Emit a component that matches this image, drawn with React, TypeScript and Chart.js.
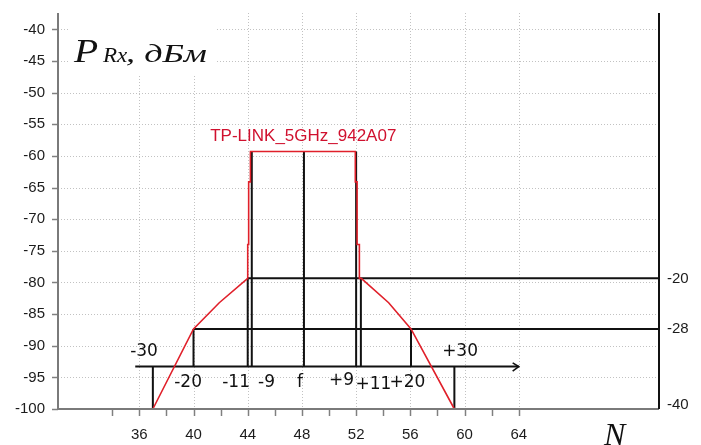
import React, { useEffect, useRef } from 'react';
import { Chart, registerables } from 'chart.js';

Chart.register(...registerables);

// ---- data ----
const xMin = 30;
const xMax = 74.35;
const yMin = -100;
const yMax = -37.4;
const refOffset = 59.35; // right axis (dB relative to peak) = dBm + refOffset

const xTickValues = [34, 36, 38, 40, 42, 44, 46, 48, 50, 52, 54, 56, 58, 60, 62, 64];
const xLabelValues = [36, 40, 44, 48, 52, 56, 60, 64];
const yTickValues = [-100, -95, -90, -85, -80, -75, -70, -65, -60, -55, -50, -45, -40];
const rightTickValues = [-40, -28, -20];

const ssid = 'TP-LINK_5GHz_942A07';
const spectrumChannels = [37, 40, 41.9, 44.0, 44.0, 44.07, 44.07, 44.2, 44.2, 51.94, 51.94, 52.07, 52.07, 52.24, 52.24, 52.38, 54.4, 56.05, 59.25];
const spectrumLevels = [-100, -87.35, -83.2, -79.35, -74.0, -74.0, -64.1, -64.1, -59.3, -59.3, -64.1, -64.1, -74.0, -74.0, -79.35, -79.35, -83.2, -87.35, -100];

const baselineLevel = -93.3;
const baselineStart = 35.7;
const baselineEnd = 64;
const arrowChannels = [63.55, 64, 63.55];
const arrowLevels = [-92.7, -93.3, -94.0];

const offsetLabels = ['-30', '-20', '-11', '-9', 'f', '+9', '+11', '+20', '+30'];
const offsetChannels = [37, 40, 44, 44.3, 48.15, 52, 52.35, 56.05, 59.25];
const offsetLineEnds = [-100, -87.35, -79.35, -59.3, -59.3, -59.3, -79.35, -87.35, -100];
const offsetLabelChannels = [36.35, 39.6, 43.14, 45.39, 47.86, 50.92, 53.28, 55.79, 59.67];
const offsetLabelLevels = [-91.0, -95.9, -95.9, -95.9, -95.9, -95.5, -96.2, -95.9, -91.0];

const levelLinesRel = [-20, -28];
const levelLineStarts = [44, 40];

const ssidLabelChannel = 48.1;
const ssidLabelLevel = -56.85;

// ---- build datasets ----
const black = '#111111';
const red = '#e0202a';

function seg(points: { x: number; y: number }[], color: string, width: number, axis = 'y') {
  return {
    type: 'line' as const,
    data: points,
    borderColor: color,
    borderWidth: width,
    pointRadius: 0,
    fill: false,
    tension: 0,
    yAxisID: axis,
    clip: false as any,
  };
}

function buildDatasets() {
  const ds: any[] = [];
  ds.push(seg(spectrumChannels.map((c, i) => ({ x: c, y: spectrumLevels[i] })), red, 1.6));
  ds.push(seg([{ x: baselineStart, y: baselineLevel }, { x: baselineEnd, y: baselineLevel }], black, 2));
  ds.push(seg(arrowChannels.map((c, i) => ({ x: c, y: arrowLevels[i] })), black, 1.6));
  offsetChannels.forEach((c, i) => {
    ds.push(seg([{ x: c, y: baselineLevel }, { x: c, y: offsetLineEnds[i] }], black, 2));
  });
  levelLinesRel.forEach((r, i) => {
    ds.push(seg([{ x: levelLineStarts[i], y: r }, { x: xMax, y: r }], black, 2, 'y2'));
  });
  return ds;
}

const tickFont = { family: '"Liberation Sans", Arial, sans-serif', size: 15 };
const tickColor = '#1c1c1c';
const serif = '"Liberation Serif", "Times New Roman", serif';

function stretchedText(ctx: CanvasRenderingContext2D, text: string, font: string, x: number, y: number, sx: number) {
  ctx.save();
  ctx.font = font;
  ctx.translate(x, y);
  ctx.scale(sx, 1);
  ctx.fillText(text, 0, 0);
  ctx.restore();
}

const decorPlugin = {
  id: 'decor',
  beforeDatasetsDraw(chart: any) {
    const { ctx, chartArea: a, scales } = chart;
    const x = scales.x;
    const y = scales.y;
    ctx.save();
    ctx.strokeStyle = '#c2c2c2';
    ctx.lineWidth = 1;
    ctx.setLineDash([1, 2]);
    for (const v of xLabelValues) {
      const px = Math.round(x.getPixelForValue(v)) + 0.5;
      ctx.beginPath();
      ctx.moveTo(px, a.top);
      ctx.lineTo(px, a.bottom);
      ctx.stroke();
    }
    for (const v of yTickValues) {
      if (v <= yMin) continue;
      const py = Math.round(y.getPixelForValue(v)) + 0.5;
      ctx.beginPath();
      ctx.moveTo(a.left, py);
      ctx.lineTo(a.right, py);
      ctx.stroke();
    }
    ctx.setLineDash([]);
    // title box
    ctx.fillStyle = '#ffffff';
    ctx.fillRect(70, a.top, 147, 62);
    ctx.fillStyle = '#111';
    ctx.textBaseline = 'alphabetic';
    ctx.textAlign = 'left';
    const base = 62;
    stretchedText(ctx, 'P', 'italic 33px ' + serif, 74, base, 1.2);
    stretchedText(ctx, 'Rx', 'italic 20px ' + serif, 103, base, 1.15);
    stretchedText(ctx, ', дБм', 'italic 25px ' + serif, 126, base, 1.45);
    ctx.restore();
  },
  afterDatasetsDraw(chart: any) {
    const { ctx, chartArea: a, scales } = chart;
    const x = scales.x;
    const y = scales.y;
    ctx.save();
    // tick marks
    ctx.strokeStyle = '#808080';
    ctx.lineWidth = 1.5;
    for (const v of xTickValues) {
      const px = Math.round(x.getPixelForValue(v)) + 0.5;
      ctx.beginPath();
      ctx.moveTo(px, a.bottom);
      ctx.lineTo(px, a.bottom + 7);
      ctx.stroke();
    }
    for (const v of yTickValues) {
      const py = Math.round(y.getPixelForValue(v)) + 0.5;
      ctx.beginPath();
      ctx.moveTo(a.left - 6, py);
      ctx.lineTo(a.left, py);
      ctx.stroke();
    }
    // axes
    ctx.lineWidth = 2;
    ctx.strokeStyle = '#7a7a7a';
    ctx.beginPath();
    ctx.moveTo(a.left, a.top);
    ctx.lineTo(a.left, a.bottom);
    ctx.lineTo(a.right, a.bottom);
    ctx.stroke();
    ctx.strokeStyle = '#111';
    ctx.beginPath();
    ctx.moveTo(a.right, a.top);
    ctx.lineTo(a.right, a.bottom);
    ctx.stroke();

    // offset labels
    ctx.fillStyle = '#111';
    ctx.textAlign = 'center';
    ctx.textBaseline = 'middle';
    ctx.font = '17px "DejaVu Sans", sans-serif';
    offsetLabels.forEach((t, i) => {
      ctx.fillText(t, x.getPixelForValue(offsetLabelChannels[i]), y.getPixelForValue(offsetLabelLevels[i]));
    });
    // ssid label
    ctx.fillStyle = '#d0102e';
    ctx.font = '17px "Liberation Sans", Arial, sans-serif';
    ctx.fillText(ssid, x.getPixelForValue(ssidLabelChannel), y.getPixelForValue(ssidLabelLevel));
    // N axis title
    ctx.fillStyle = '#111';
    ctx.textAlign = 'left';
    ctx.textBaseline = 'alphabetic';
    ctx.font = 'italic 32px ' + serif;
    ctx.fillText('N', 604, 445);
    ctx.restore();
  },
};

export default function App() {
  const ref = useRef<HTMLCanvasElement | null>(null);
  useEffect(() => {
    if (!ref.current) return;
    const chart = new Chart(ref.current, {
      type: 'line',
      data: { datasets: buildDatasets() },
      options: {
        responsive: false,
        animation: false,
        events: [],
        layout: { padding: { top: 13, left: 0, right: 0, bottom: 0 } },
        plugins: { legend: { display: false }, tooltip: { enabled: false } },
        scales: {
          x: {
            type: 'linear',
            min: xMin,
            max: xMax,
            afterBuildTicks: (s: any) => {
              s.ticks = xTickValues.map((v) => ({ value: v }));
            },
            afterFit: (s: any) => {
              s.height = 36;
              s.paddingLeft = 0;
              s.paddingRight = 0;
            },
            ticks: {
              autoSkip: false,
              maxRotation: 0,
              padding: 17,
              font: tickFont,
              color: tickColor,
              callback: (v: any) => (xLabelValues.includes(Number(v)) ? String(v) : ''),
            },
            grid: { display: false, drawTicks: false },
            border: { display: false },
          },
          y: {
            type: 'linear',
            position: 'left',
            min: yMin,
            max: yMax,
            afterBuildTicks: (s: any) => {
              s.ticks = yTickValues.map((v) => ({ value: v }));
            },
            afterFit: (s: any) => {
              s.width = 58;
              s.paddingTop = 0;
              s.paddingBottom = 0;
            },
            ticks: {
              autoSkip: false,
              padding: 13,
              font: tickFont,
              color: tickColor,
              callback: (v: any) => String(v),
            },
            grid: { display: false, drawTicks: false },
            border: { display: false },
          },
          y2: {
            type: 'linear',
            position: 'right',
            min: yMin + refOffset,
            max: yMax + refOffset,
            afterBuildTicks: (s: any) => {
              s.ticks = rightTickValues.map((v) => ({ value: v }));
            },
            afterFit: (s: any) => {
              s.width = 42;
              s.paddingTop = 0;
              s.paddingBottom = 0;
            },
            ticks: {
              autoSkip: false,
              padding: 8,
              font: tickFont,
              color: tickColor,
              callback: (v: any) => String(v),
            },
            grid: { display: false, drawTicks: false },
            border: { display: false },
          },
        },
      },
      plugins: [decorPlugin],
    } as any);
    return () => chart.destroy();
  }, []);
  return (
    <div style={{ position: 'absolute', left: 0, top: 0, width: 701, height: 445, background: '#fff' }}>
      <canvas ref={ref} width={701} height={445} style={{ display: 'block' }} />
    </div>
  );
}
